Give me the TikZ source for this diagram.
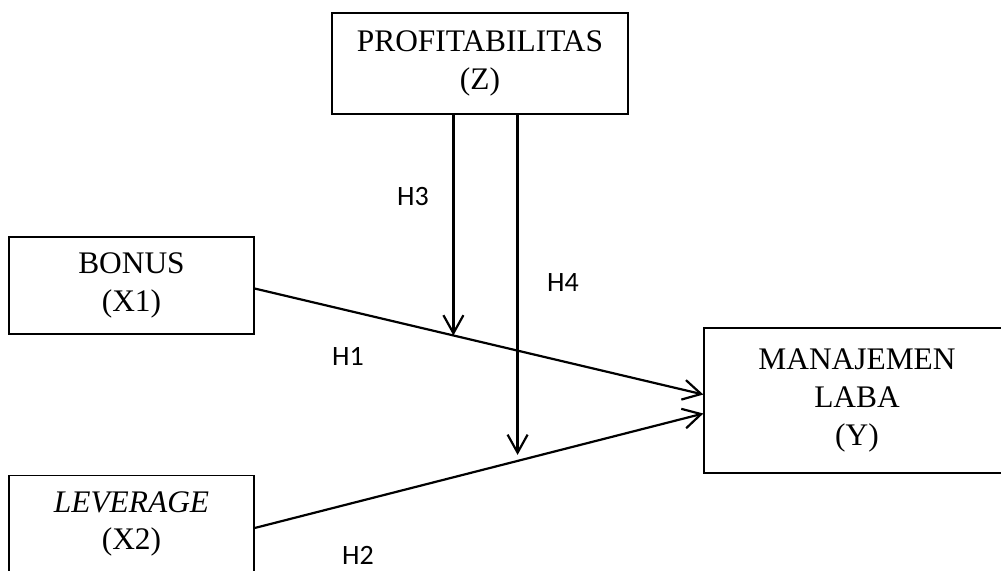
\documentclass[tikz,border=0pt]{standalone}
\usepackage{fontspec}
\setmainfont{Liberation Serif}
\newfontfamily\hlabelfont{Carlito}
\usetikzlibrary{arrows.meta}

\begin{document}
\begin{tikzpicture}[x=0.5pt,y=-0.5pt,
		varbox/.style={draw=black, line width=0.65pt, align=center, inner sep=0pt, font=\fontsize{15.7}{18.9}\selectfont},
		path/.style={draw=black, line width=1.1pt, -{Straight Barb[length=9pt,width=10pt]}},
		hyp/.style={font=\hlabelfont\fontsize{14}{16}\selectfont, inner sep=0pt},
	]
	\useasboundingbox (0,0) rectangle (1001,570);
	% Draw diagram elements
	\node (profit) [varbox,minimum width=148pt,minimum height=50.5pt] at (480,63.5) {PROFITABILITAS\\(Z)};
	\node (bonus) [varbox,minimum width=122.5pt,minimum height=48.5pt] at (131.5,285.5) {BONUS\\(X1)};
	\node (leverage) [varbox,minimum width=122.5pt,minimum height=48.5pt] at (131.5,524) {\textit{LEVERAGE}\\(X2)};
	\node (laba) [varbox,minimum width=153pt,minimum height=72.5pt] at (857,400.5) {MANAJEMEN\\LABA\\(Y)};
	% Draw arrows between elements
	\draw[path] ([yshift=-1.5pt]bonus.east) -- coordinate[pos=0.443] (modone) ([yshift=3pt]laba.west);
	\draw[path] ([yshift=-2pt]leverage.east) -- coordinate[pos=0.586] (modtwo) ([yshift=-6.5pt]laba.west);
	\draw[path] (profit.south -| modone) -- (modone);
	\draw[path,shorten >=3pt] (profit.south -| modtwo) -- (modtwo);
	% Hypothesis labels
	\node (hone) [hyp] at (348,356) {H1};
	\node (htwo) [hyp] at (358,555) {H2};
	\node (hthree) [hyp] at (413,196) {H3};
	\node (hfour) [hyp] at (563,282) {H4};
\end{tikzpicture}
\end{document}
